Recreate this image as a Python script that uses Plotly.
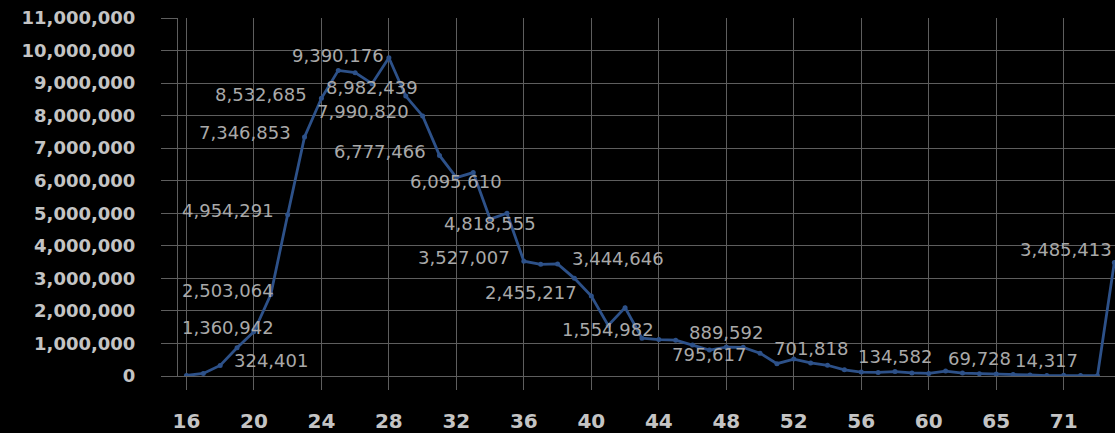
import plotly.graph_objects as go

# ---- data ----
ages = [str(a) for a in range(16, 61)] + ["61", "62", "64", "65", "66", "68", "70", "71", "72", "74", "75"]
counts = [
    15000, 80000, 324401, 870000, 1360942, 2503064, 4954291, 7346853, 8532685, 9390176,
    9320000, 8982439, 9780000, 8600000, 7990820, 6777466, 6095610, 6250000, 4818555, 5000000,
    3527007, 3430000, 3444646, 3000000, 2455217, 1554982, 2100000, 1160000, 1120000, 1100000,
    950000, 795617, 889592, 880000, 701818, 380000, 520000, 400000, 330000, 190000,
    120000, 110000, 134582, 95000, 80000, 150000, 90000, 69728, 60000, 45000,
    30000, 14317, 20000, 15000, 10000, 3485413,
]
labeled_idx = [2, 4, 5, 6, 7, 8, 9, 11, 14, 15, 16, 18, 20, 22, 24, 25, 31, 32, 34, 42, 47, 51, 55]
label_pos = ["right", "clampleft", "clampleft", "left", "left", "left", "above", "center", "left", "left",
             "center", "center", "left", "right", "left", "center", "center", "above", "right",
             "above", "above", "above", "aboveleft"]
tick_idx = list(range(0, 53, 4))
y_ticks = list(range(0, 11000001, 1000000))

# ---- styles ----
LINE = "#2d5189"
GRID = "#5e5e5e"
TICKC = "#c4c4c4"
LABC = "#a9a9a9"
FONT = "DejaVu Sans"

fig = go.Figure()
fig.add_trace(go.Scatter(
    x=list(range(len(ages))), y=counts, mode="lines+markers",
    line=dict(color=LINE, width=2.8),
    marker=dict(color=LINE, size=5),
    hoverinfo="skip",
))

pos_style = {
    "left": dict(xanchor="right", xshift=-12, yshift=4),
    "right": dict(xanchor="left", xshift=12, yshift=5),
    "above": dict(xanchor="center", xshift=0, yshift=15),
    "center": dict(xanchor="center", xshift=0, yshift=-4),
    "aboveleft": dict(xanchor="right", xshift=0, yshift=13),
}
for i, p in zip(labeled_idx, label_pos):
    txt = f"{counts[i]:,}"
    if p == "clampleft":
        fig.add_annotation(x=0, xref="paper", y=counts[i], yref="y", text=txt, showarrow=False,
                           xanchor="left", xshift=2, yshift=4, yanchor="middle",
                           font=dict(family=FONT, size=18, color=LABC))
    else:
        st = pos_style[p]
        fig.add_annotation(x=i, xref="x", y=counts[i], yref="y", text=txt, showarrow=False,
                           yanchor="middle", font=dict(family=FONT, size=18, color=LABC), **st)

fig.update_layout(
    width=1115, height=433, autosize=False,
    paper_bgcolor="black", plot_bgcolor="black",
    margin=dict(l=178, r=0, t=18, b=54),
    showlegend=False,
    xaxis=dict(
        range=[-0.5, 55.04],
        tickmode="array", tickvals=tick_idx, ticktext=[ages[i] for i in tick_idx],
        showgrid=True, gridcolor=GRID, gridwidth=1,
        ticks="outside", ticklen=13, tickcolor=GRID, tickwidth=1,
        showline=True, linecolor=GRID, linewidth=1,
        tickfont=dict(family=FONT, size=20, color=TICKC, weight="bold"),
        ticklabelstandoff=14, zeroline=False,
    ),
    yaxis=dict(
        range=[0, 11000000], tickmode="array", tickvals=y_ticks,
        ticktext=[f"{v:,}" for v in y_ticks],
        showgrid=True, gridcolor=GRID, gridwidth=1,
        ticks="outside", ticklen=16, tickcolor=GRID, tickwidth=1,
        showline=True, linecolor=GRID, linewidth=1,
        tickfont=dict(family=FONT, size=18, color=TICKC, weight="bold"),
        ticklabelstandoff=22, zeroline=False,
    ),
)

fig.write_html("out.html", config={"displayModeBar": False},
               post_script="document.body.style.margin='0';document.body.style.background='black';")
